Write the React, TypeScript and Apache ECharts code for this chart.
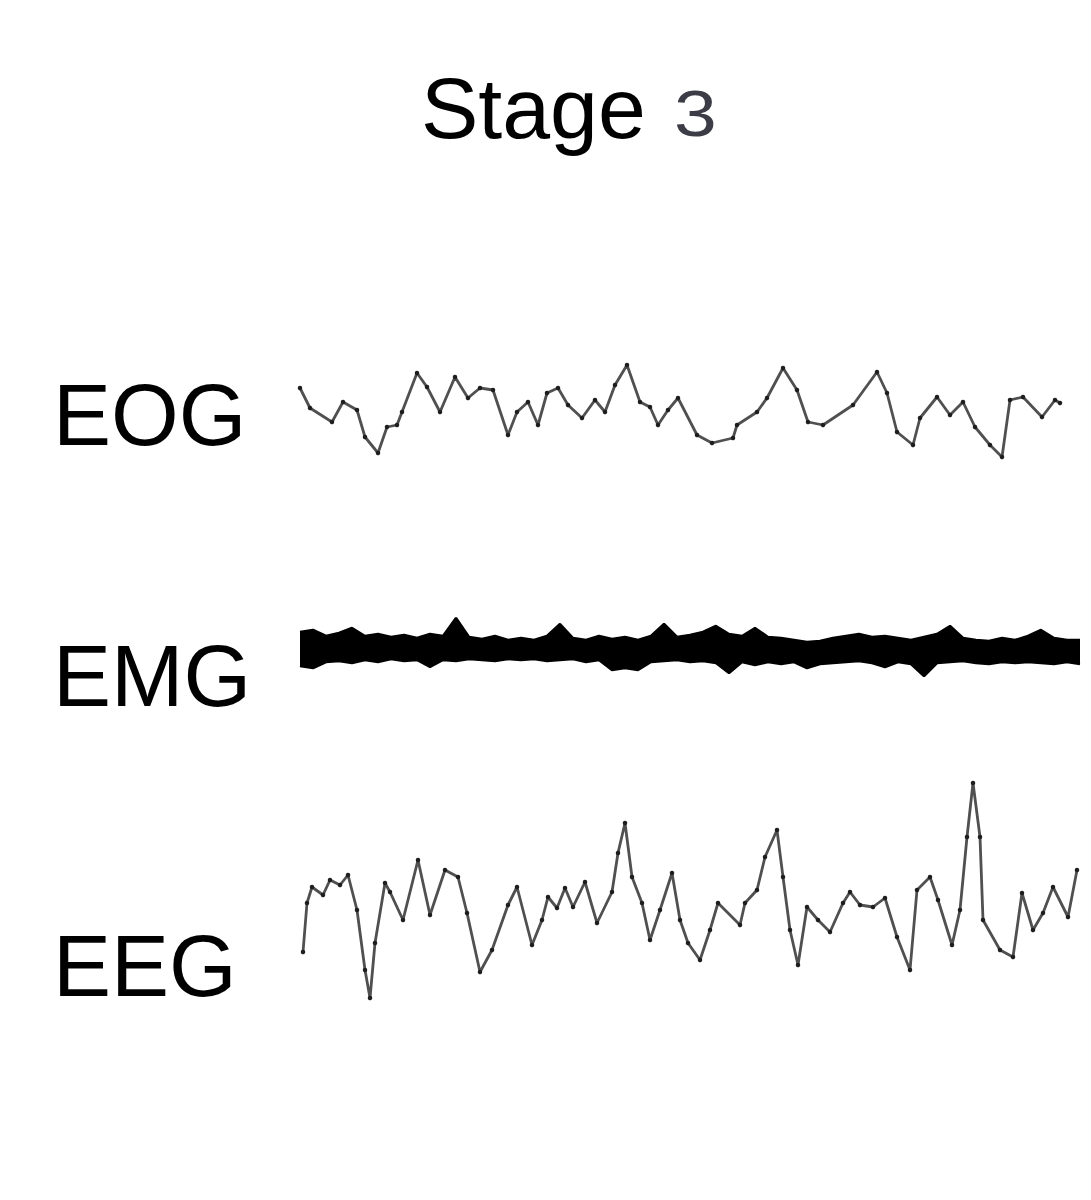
import React, { useEffect, useRef } from "react";
import * as echarts from "echarts";

// EOG trace: time (sample units) and amplitude
const eogT = [0, 10, 32, 43, 57, 65, 78, 87, 97, 102, 117, 127, 140, 155, 168, 180, 193, 208, 217, 228, 238, 247, 258, 268, 282, 295, 305, 315, 327, 340, 350, 358, 368, 378, 397, 412, 433, 437, 457, 467, 483, 497, 508, 523, 553, 577, 587, 597, 613, 620, 637, 650, 663, 675, 690, 702, 710, 723, 742, 755, 760];
const eogV = [22, 2, -12, 8, 0, -27, -43, -17, -15, -2, 37, 23, -2, 33, 12, 22, 20, -25, -2, 8, -15, 17, 22, 5, -8, 10, -2, 25, 45, 8, 3, -15, 0, 12, -25, -33, -28, -15, -2, 12, 42, 20, -12, -15, 5, 38, 17, -22, -35, -8, 13, -5, 8, -17, -35, -47, 10, 13, -7, 10, 7];

// EMG: upper and lower envelope of the dense trace
const emgT = [0, 13, 26, 39, 52, 65, 78, 91, 104, 117, 130, 143, 156, 169, 182, 195, 208, 221, 234, 247, 260, 273, 286, 299, 312, 325, 338, 351, 364, 377, 390, 403, 416, 429, 442, 455, 468, 481, 494, 507, 520, 533, 546, 559, 572, 585, 598, 611, 624, 637, 650, 663, 676, 689, 702, 715, 728, 741, 754, 767, 780];
const emgUpper = [18, 20, 14, 17, 22, 14, 16, 13, 15, 12, 16, 14, 32, 13, 11, 14, 10, 12, 10, 14, 26, 12, 10, 14, 11, 13, 10, 14, 26, 13, 15, 18, 24, 16, 14, 22, 13, 12, 10, 8, 9, 12, 14, 16, 13, 14, 12, 10, 13, 16, 24, 12, 10, 9, 12, 10, 14, 20, 12, 10, 10];
const emgLower = [-16, -18, -12, -11, -13, -10, -12, -9, -11, -10, -17, -10, -11, -9, -10, -11, -9, -10, -9, -11, -10, -9, -12, -10, -20, -18, -20, -12, -11, -10, -12, -11, -13, -23, -12, -15, -12, -14, -12, -18, -14, -13, -12, -11, -13, -17, -12, -14, -26, -13, -12, -11, -13, -14, -12, -13, -12, -13, -14, -12, -14];

// EEG trace
const eegT = [3, 7, 12, 23, 30, 40, 48, 57, 65, 70, 75, 85, 90, 103, 118, 130, 145, 158, 167, 180, 192, 208, 217, 232, 242, 248, 257, 265, 273, 285, 297, 312, 318, 325, 332, 342, 350, 360, 372, 380, 388, 400, 410, 418, 440, 445, 457, 465, 477, 483, 490, 498, 507, 518, 530, 543, 550, 560, 573, 585, 597, 610, 617, 630, 638, 652, 660, 667, 673, 680, 683, 700, 713, 722, 733, 743, 753, 768, 777];
const eegV = [-42, 7, 23, 15, 30, 25, 35, 0, -60, -88, -33, 27, 18, -10, 50, -5, 40, 33, -3, -62, -40, 5, 23, -35, -10, 13, 2, 22, 3, 28, -13, 18, 57, 87, 33, 7, -30, 0, 37, -10, -33, -50, -20, 7, -15, 7, 20, 53, 80, 33, -20, -55, 3, -10, -22, 7, 18, 5, 3, 12, -27, -60, 20, 33, 10, -35, 0, 73, 127, 73, -10, -40, -47, 17, -20, -3, 23, -7, 40];

const titleMain = "Stage";
const titleStage = "3";
const channelLabels = ["EOG", "EMG", "EEG"];

export default function App() {
  const ref = useRef<HTMLDivElement>(null);
  useEffect(() => {
    const chart = echarts.init(ref.current!, null, { renderer: "svg" });
    const zip = (t: number[], v: number[]) => t.map((x, i) => [x, v[i]]);
    const traceStyle = {
      type: "line",
      smooth: false,
      symbol: "circle",
      symbolSize: 4.5,
      showSymbol: true,
      itemStyle: { color: "#1e1e1e" },
      lineStyle: { color: "#505050", width: 2.8 },
    };
    const font = '"Liberation Sans", Arial, Helvetica, sans-serif';
    const labelY = [414, 675, 965];
    const option: any = {
      animation: false,
      backgroundColor: "#ffffff",
      grid: [
        { left: 300, top: 340, width: 780, height: 140 },
        { left: 300, top: 600, width: 780, height: 100 },
        { left: 300, top: 770, width: 780, height: 280 },
      ],
      xAxis: [0, 1, 2].map((i) => ({ type: "value", gridIndex: i, min: 0, max: 780, show: false, splitLine: { show: false } })),
      yAxis: [
        { type: "value", gridIndex: 0, min: -70, max: 70, show: false, splitLine: { show: false } },
        { type: "value", gridIndex: 1, min: -50, max: 50, show: false, splitLine: { show: false } },
        { type: "value", gridIndex: 2, min: -140, max: 140, show: false, splitLine: { show: false } },
      ],
      series: [
        { ...traceStyle, name: "EOG", xAxisIndex: 0, yAxisIndex: 0, data: zip(eogT, eogV) },
        {
          type: "line",
          name: "EMG",
          xAxisIndex: 1,
          yAxisIndex: 1,
          showSymbol: false,
          lineStyle: { color: "#000", width: 2.5 },
          areaStyle: { color: "#000", opacity: 1, origin: "start" },
          data: zip(emgT, emgUpper),
          z: 2,
        },
        {
          type: "line",
          name: "EMG lower",
          xAxisIndex: 1,
          yAxisIndex: 1,
          showSymbol: false,
          lineStyle: { color: "#000", width: 2.5 },
          areaStyle: { color: "#ffffff", opacity: 1, origin: "start" },
          data: zip(emgT, emgLower),
          z: 3,
        },
        { ...traceStyle, name: "EEG", xAxisIndex: 2, yAxisIndex: 2, data: zip(eegT, eegV) },
      ],
      graphic: [
        {
          type: "text",
          x: 421,
          y: 108,
          style: { text: titleMain, fontSize: 86, fontFamily: font, fill: "#000", verticalAlign: "middle", align: "left" },
        },
        {
          type: "text",
          x: 674,
          y: 114,
          scaleX: 1.2,
          style: { text: titleStage, fontSize: 64, fontFamily: font, fill: "#3c3c46", verticalAlign: "middle", align: "left" },
        },
        ...channelLabels.map((t, i) => ({
          type: "text",
          x: 53,
          y: labelY[i],
          style: { text: t, fontSize: 87, fontFamily: font, fill: "#000", verticalAlign: "middle", align: "left" },
        })),
      ],
    };
    chart.setOption(option);
    return () => chart.dispose();
  }, []);
  return <div ref={ref} style={{ position: "absolute", left: 0, top: 0, width: 1091, height: 1200 }} />;
}
